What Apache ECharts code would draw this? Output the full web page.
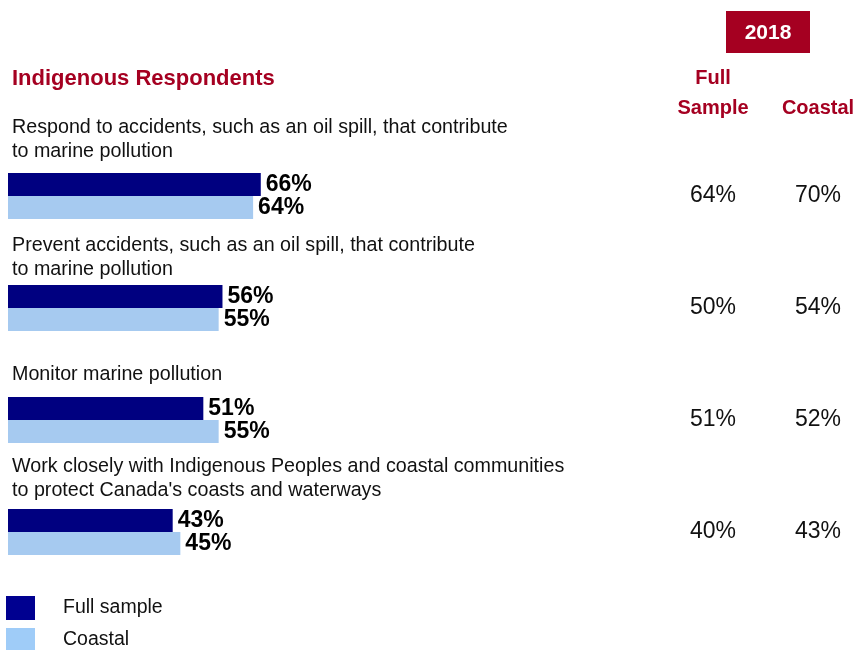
<!DOCTYPE html>
<html>
<head>
<meta charset="utf-8">
<script src="https://cdn.jsdelivr.net/npm/echarts@6/dist/echarts.min.js"></script>
<style>
  html, body { margin: 0; padding: 0; background: #fff; }
  #chart { width: 855px; height: 650px; }
</style>
</head>
<body>
<div id="chart"></div>
<script>
// Survey items (top to bottom)
const categories = [
  "Respond to accidents, such as an oil spill, that contribute\nto marine pollution",
  "Prevent accidents, such as an oil spill, that contribute\nto marine pollution",
  "Monitor marine pollution",
  "Work closely with Indigenous Peoples and coastal communities\nto protect Canada's coasts and waterways"
];
// Indigenous respondents (bars)
const fullSample = [66, 56, 51, 43];
const coastal = [64, 55, 55, 45];
// 2018 comparison columns
const full2018 = [64, 50, 51, 40];
const coastal2018 = [70, 54, 52, 43];
const seriesNames = ["Full sample", "Coastal"];

// How far each item's caption sits above its bar pair (px)
const captionLift = [32, 26, 33, 29];

const FONT = "'Liberation Sans', Arial, sans-serif";
const RED = "#A50021";
const NAVY = "#000080";
const SKY = "#A6CAF0";

const chart = echarts.init(document.getElementById("chart"), null, { renderer: "canvas" });

const barLabel = {
  show: true,
  position: "right",
  distance: 5,
  formatter: "{c}%",
  color: "#000",
  fontFamily: FONT,
  fontSize: 23,
  fontWeight: "bold"
};

function columnAxis(values, margin) {
  return {
    type: "category",
    data: categories,
    inverse: true,
    position: "right",
    offset: 0,
    axisLine: { show: false },
    axisTick: { show: false },
    splitLine: { show: false },
    axisLabel: {
      margin: margin,
      align: "center",
      fontFamily: FONT,
      fontSize: 23,
      color: "#111",
      formatter: (v, i) => values[i] + "%"
    }
  };
}

// One legend box per entry, stacked vertically
function legendEntry(name, color, top) {
  return {
    left: 6,
    top: top,
    padding: 0,
    itemWidth: 29,
    itemHeight: 24,
    icon: "rect",
    selectedMode: false,
    data: [{ name: name, itemStyle: { color: color } }],
    textStyle: {
      fontFamily: FONT,
      fontSize: 19.5,
      color: "#111",
      padding: [0, 0, 0, 23]
    }
  };
}

const staticGraphics = [
  {
    type: "text",
    left: 12,
    top: 68,
    style: {
      text: "Indigenous Respondents",
      fill: RED,
      font: "bold 22px " + FONT
    }
  },
  {
    type: "rect",
    shape: { x: 726, y: 11, width: 84, height: 42 },
    style: { fill: RED }
  },
  {
    type: "text",
    x: 768,
    y: 33,
    style: {
      text: "2018",
      fill: "#fff",
      font: "bold 21px " + FONT,
      align: "center",
      verticalAlign: "middle"
    }
  },
  {
    type: "text",
    x: 713,
    y: 93,
    style: {
      text: "Full\nSample",
      fill: RED,
      font: "bold 20px " + FONT,
      lineHeight: 30,
      align: "center",
      verticalAlign: "middle"
    }
  },
  {
    type: "text",
    x: 818,
    y: 108,
    style: {
      text: "Coastal",
      fill: RED,
      font: "bold 20px " + FONT,
      align: "center",
      verticalAlign: "middle"
    }
  }
];

chart.setOption({
  animation: false,
  backgroundColor: "#fff",
  textStyle: { fontFamily: FONT },
  grid: { left: 8, top: 140, width: 383, height: 448, containLabel: false },
  xAxis: {
    type: "value",
    min: 0,
    max: 100,
    show: false
  },
  yAxis: [
    {
      type: "category",
      data: categories,
      inverse: true,
      axisLine: { show: false },
      axisTick: { show: false },
      splitLine: { show: false },
      axisLabel: { show: false }
    },
    columnAxis(full2018, 322),
    columnAxis(coastal2018, 427)
  ],
  legend: [
    legendEntry(seriesNames[0], "#000090", 596),
    legendEntry(seriesNames[1], "#9FCCF8", 628)
  ],
  series: [
    {
      name: seriesNames[0],
      type: "bar",
      yAxisIndex: 0,
      data: fullSample,
      barWidth: 23,
      barGap: "0%",
      itemStyle: { color: NAVY },
      label: barLabel
    },
    {
      name: seriesNames[1],
      type: "bar",
      yAxisIndex: 0,
      data: coastal,
      barWidth: 23,
      barGap: "0%",
      itemStyle: { color: SKY },
      label: barLabel
    }
  ],
  graphic: staticGraphics
});

// Item captions sit above each bar pair, placed from the category axis
const captions = categories.map((name, i) => {
  const y = chart.convertToPixel({ yAxisIndex: 0 }, i);
  return {
    type: "text",
    x: 12,
    y: y - captionLift[i],
    style: {
      text: name,
      fill: "#111",
      font: "19.7px " + FONT,
      lineHeight: 24,
      align: "left",
      verticalAlign: "bottom"
    }
  };
});
chart.setOption({ graphic: staticGraphics.concat(captions) });
</script>
</body>
</html>
